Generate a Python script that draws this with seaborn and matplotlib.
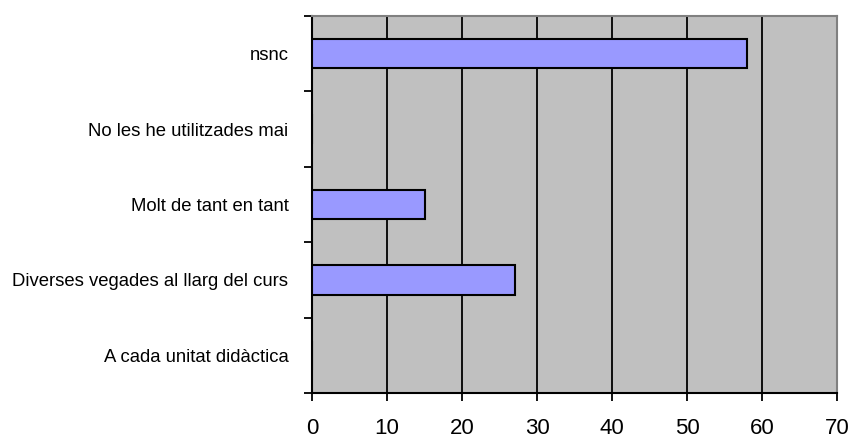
import numpy as np
import pandas as pd
import matplotlib
matplotlib.use('Agg')
import matplotlib.pyplot as plt
import seaborn as sns

# dades
categories = ['nsnc', 'No les he utilitzades mai', 'Molt de tant en tant',
              'Diverses vegades al llarg del curs', 'A cada unitat didàctica']
values = [58, 0, 15, 27, 0]
x_ticks = [0, 10, 20, 30, 40, 50, 60, 70]

df = pd.DataFrame({'cat': categories, 'val': values})

sns.set_style('white')
plt.rcParams['font.family'] = ['Liberation Sans', 'DejaVu Sans']

fig = plt.figure(figsize=(8.52, 4.42), dpi=100)
ax = fig.add_axes([0.3662, 0.1109, 0.6162, 0.8529])
ax.set_facecolor('#C0C0C0')

sns.barplot(data=df, x='val', y='cat', order=categories, orient='h',
            color='#9999FF', saturation=1, width=0.39,
            edgecolor='black', linewidth=1.5, ax=ax, zorder=3)

ax.set_xlim(0, 70)
ax.set_ylim(4.5, -0.5)
ax.set_xticks(x_ticks)
ax.xaxis.grid(True, color='black', linewidth=1.3, zorder=1)
ax.set_axisbelow(True)
ax.set_xlabel('')
ax.set_ylabel('')

ax.tick_params(axis='x', bottom=True, length=6, width=1.3, color='black', direction='out',
               labelsize=16, pad=12, labelcolor='black')
ax.tick_params(axis='y', which='major', left=False, length=0, pad=17)
ax.set_yticks(np.arange(-0.5, 5, 1), minor=True)
ax.tick_params(axis='y', which='minor', left=True, length=6, width=1.3,
               color='black', direction='out')

for lab in ax.get_yticklabels():
    lab.set_fontsize(13.3)
    lab.set_color('black')

for s in ['left', 'bottom']:
    ax.spines[s].set_color('black')
    ax.spines[s].set_linewidth(1.5)
for s in ['top', 'right']:
    ax.spines[s].set_color('#808080')
    ax.spines[s].set_linewidth(1.5)

fig.savefig('out.png', dpi=100)
